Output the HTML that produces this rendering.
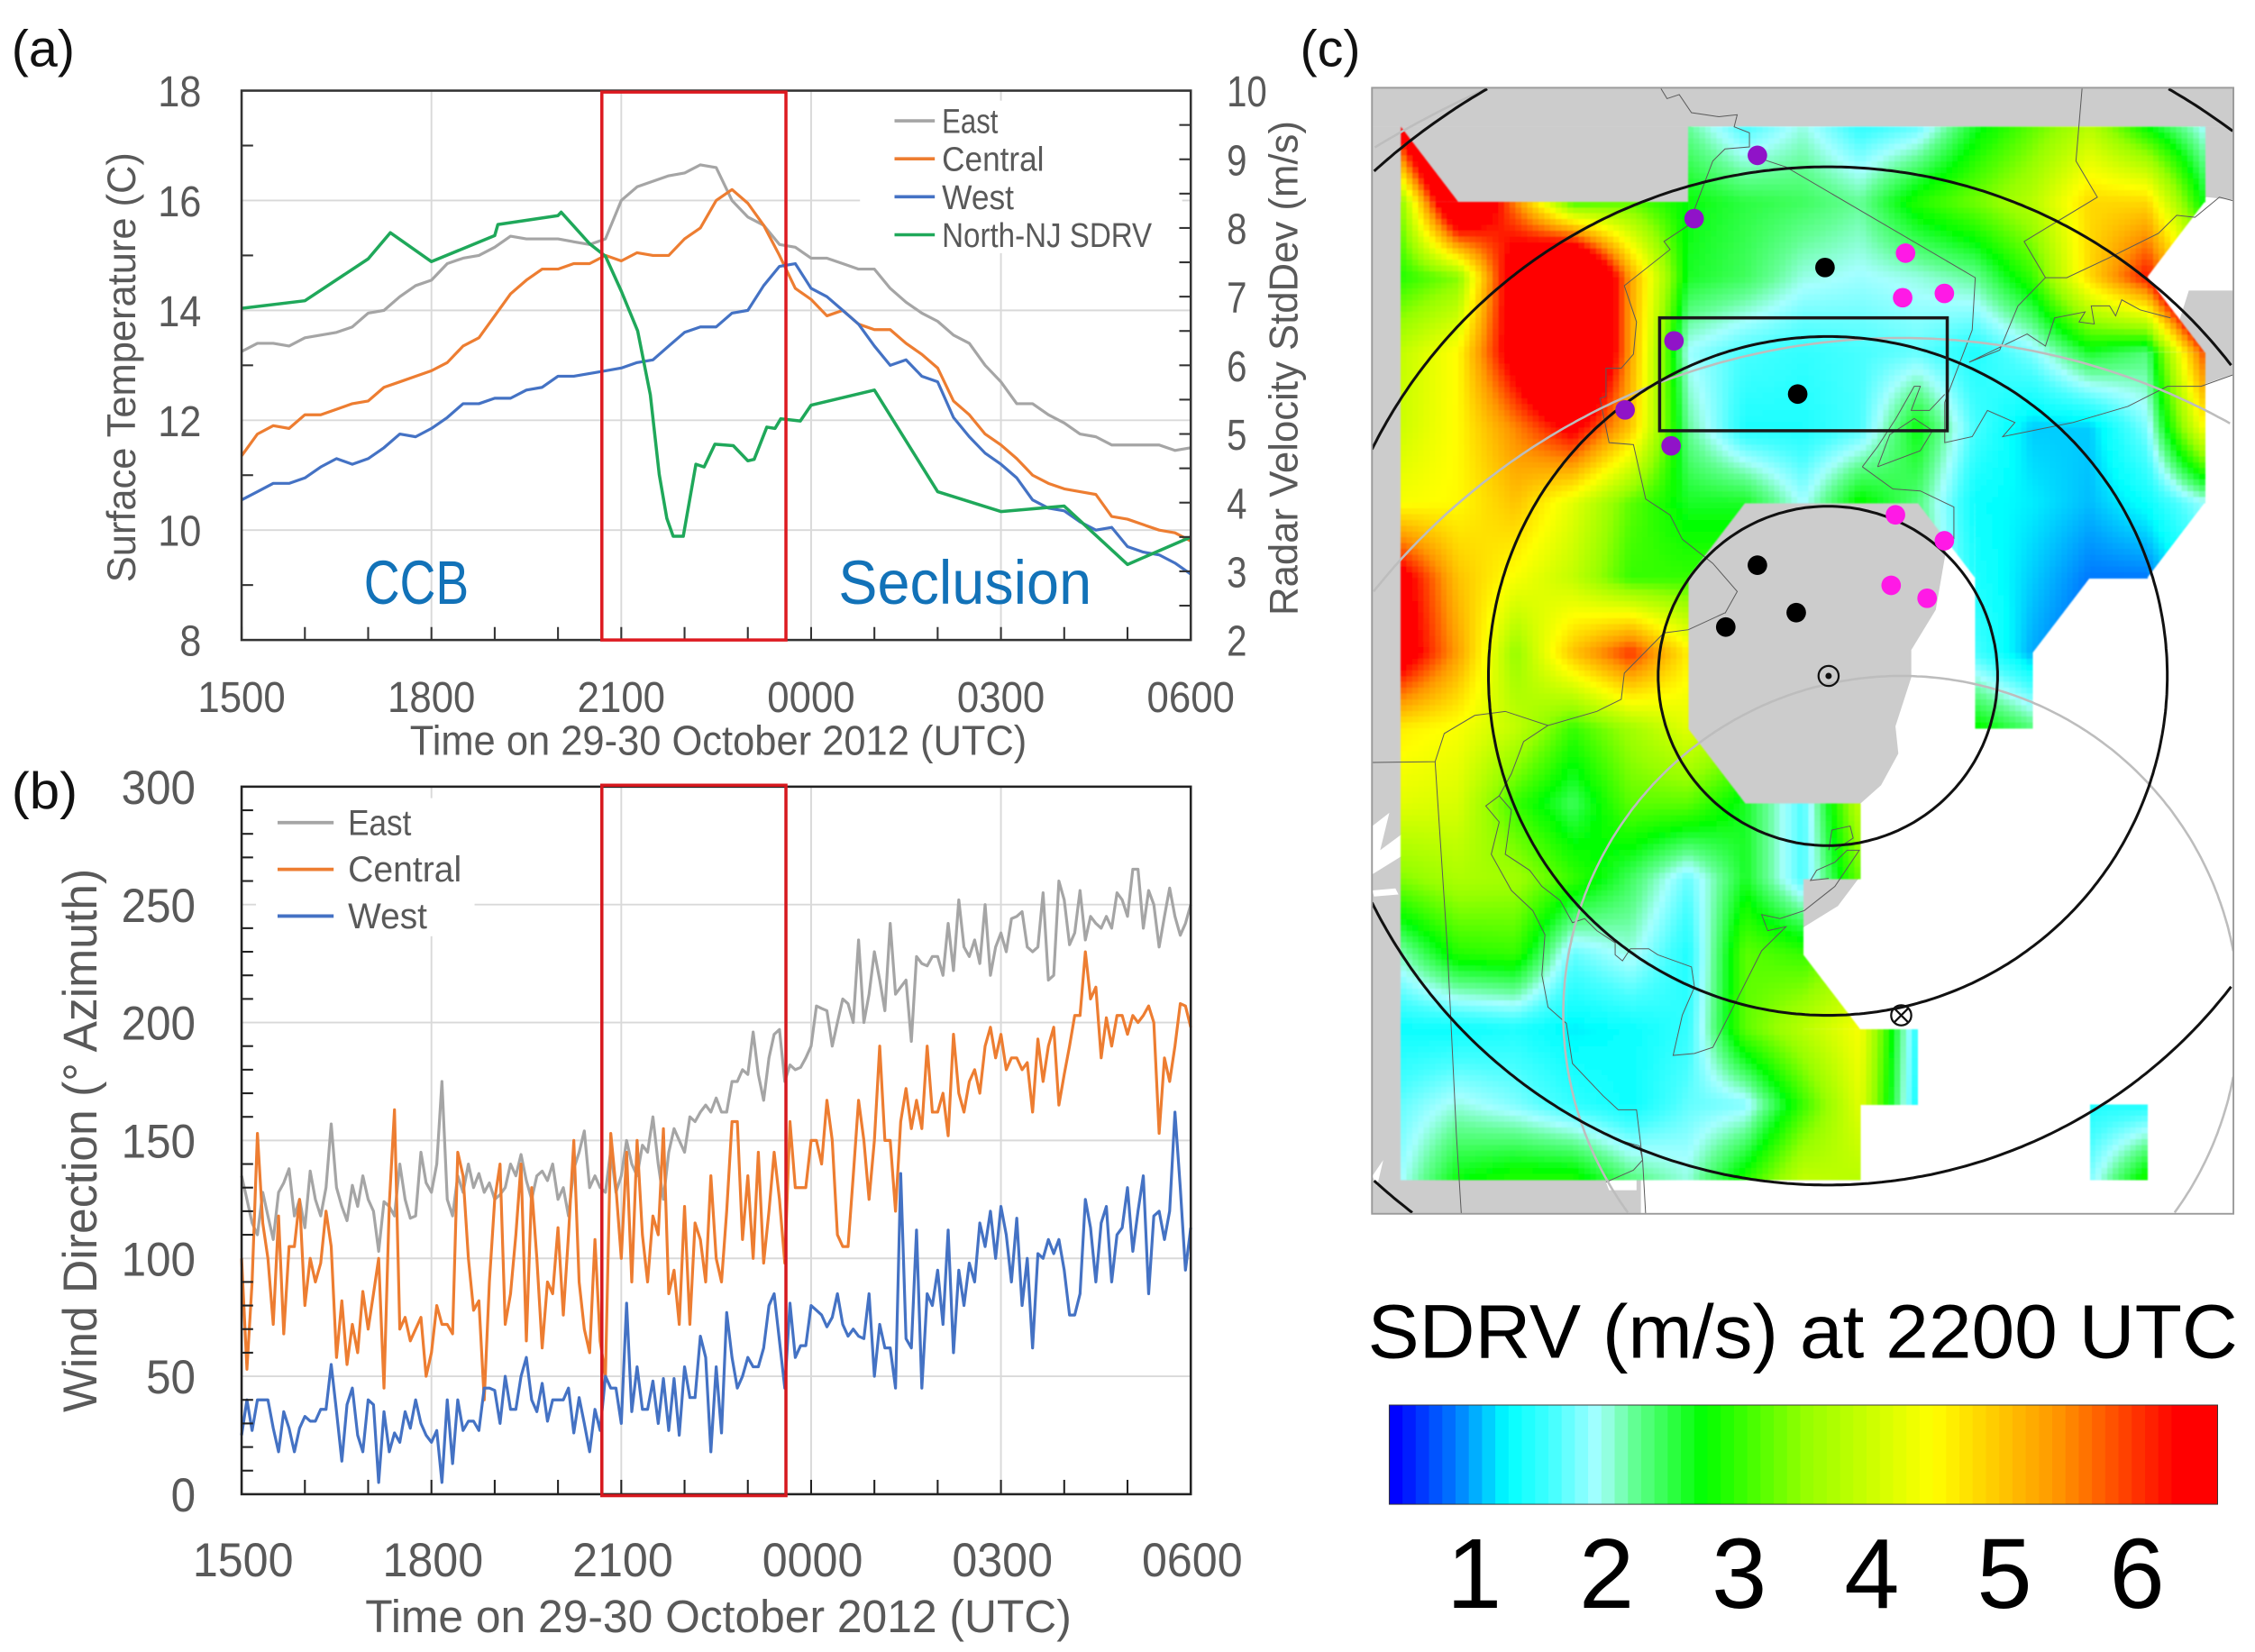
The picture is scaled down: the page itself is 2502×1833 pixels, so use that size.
<!DOCTYPE html>
<html lang="en">
<head>
<meta charset="utf-8">
<title>Surface temperature, wind direction and SDRV map</title>
<style>
html,body{margin:0;padding:0;background:#fff;width:2502px;height:1833px;overflow:hidden}
svg{display:block}
text{font-family:"Liberation Sans",sans-serif}
.tk{fill:#595959}
</style>
</head>
<body>
<svg id="fig" xmlns="http://www.w3.org/2000/svg" width="2502" height="1833" viewBox="0 0 1568 1148.7">
  <defs id="defs">
    <clipPath id="mapClip"><rect x="954" y="61" width="599" height="783"/></clipPath>
    <filter id="soft" x="-2%" y="-2%" width="104%" height="104%"><feGaussianBlur stdDeviation="0.55"/></filter>
  </defs>
  <rect x="0" y="0" width="1568" height="1148.7" fill="#fff"/>

  <text x="8" y="46" font-size="36" fill="#111" textLength="44" lengthAdjust="spacingAndGlyphs">(a)</text>
  <text x="8" y="562" font-size="36" fill="#111" textLength="46" lengthAdjust="spacingAndGlyphs">(b)</text>
  <text x="904" y="46" font-size="36" fill="#111" textLength="42" lengthAdjust="spacingAndGlyphs">(c)</text>

  <!-- Panel A -->
  <g id="panelA">
    <g id="gridA"></g>
    <rect x="598" y="70" width="224" height="106" fill="#fff"/>
    <g id="seriesA"></g>
    <rect x="168" y="63" width="660" height="382" fill="none" stroke="#333" stroke-width="1.6"/>
    <g id="ticksA"></g>
    <rect x="418.500" y="64" width="128" height="381" fill="none" stroke="#DD1A20" stroke-width="2.2"/>
    <text transform="translate(94,405) rotate(-90)" font-size="28" fill="#595959" textLength="299" lengthAdjust="spacingAndGlyphs">Surface Temperature (C)</text>
    <text transform="translate(902,428) rotate(-90)" font-size="28" fill="#595959" textLength="344" lengthAdjust="spacingAndGlyphs">Radar Velocity StdDev (m/s)</text>
    <text x="285" y="525" font-size="29" fill="#595959" textLength="429" lengthAdjust="spacingAndGlyphs">Time on 29-30 October 2012 (UTC)</text>
    <text x="253" y="420" font-size="43" fill="#1272B8" textLength="73" lengthAdjust="spacingAndGlyphs">CCB</text>
    <text x="583" y="420" font-size="43" fill="#1272B8" textLength="176" lengthAdjust="spacingAndGlyphs">Seclusion</text>
    <g id="legendA"></g>
  </g>

  <!-- Panel B -->
  <g id="panelB">
    <g id="gridB"></g>
    <rect x="178" y="555" width="152" height="96" fill="#fff"/>
    <g id="seriesB"></g>
    <rect x="168" y="547" width="660" height="492" fill="none" stroke="#222" stroke-width="1.6"/>
    <g id="ticksB"></g>
    <rect x="418.500" y="546" width="128" height="494" fill="none" stroke="#D6181E" stroke-width="2.2"/>
    <text transform="translate(67,982) rotate(-90)" font-size="33" fill="#595959" textLength="378" lengthAdjust="spacingAndGlyphs">Wind Direction (° Azimuth)</text>
    <text x="254" y="1135" font-size="32" fill="#595959" textLength="491" lengthAdjust="spacingAndGlyphs">Time on 29-30 October 2012 (UTC)</text>
    <g id="legendB"></g>
  </g>

  <!-- Panel C -->
  <g id="panelC">
    <g clip-path="url(#mapClip)">
      <g fill="#CCCCCC">
        <rect x="954" y="61" width="599" height="27"/>
        <polygon points="1530,88 1553,88 1553,139 1534,137 1530,140"/>
        <rect x="954" y="88" width="222" height="54"/>
        <rect x="954" y="88" width="22" height="756"/>
        <rect x="954" y="816" width="187" height="28"/>
        <polygon points="1172,347 1352,347 1354,378 1346,424 1329,452 1329,471 1318,505 1320,524 1308,546 1290,562 1172,562"/>
        <polygon points="1252,610 1293,610 1278,630 1252,646"/>
        <polygon points="1522,202 1553,202 1553,260 1533,267 1510,240"/>
      </g>
      <g transform="translate(902.4,426.100) scale(.4244,.2798)" fill="#fff">
        <polygon points="122,530 150,497 135,590 175,545 188,545 170,605 122,650"/>
        <polygon points="122,690 160,685 165,700 125,705"/>
        <polygon points="505,1415 530,1390 555,1400 555,1435 510,1435"/>
        <polygon points="122,1400 140,1360 130,1425"/>
        <polygon points="570,1400 1535,1400 1535,1494 570,1494"/>
      </g>
      <g id="heat" filter="url(#soft)" shape-rendering="crispEdges"></g>

      <g fill="none" stroke="#5a5a5a" stroke-width="1" transform="translate(902.4,0) scale(.4244,.2798)">
        <polyline vector-effect="non-scaling-stroke" points="595,220 605,245 625,235 645,280 690,290 720,285 715,315 740,330 740,365 700,370 680,400 660,480 640,560 600,600 610,620 535,710 555,800 550,880 530,915 505,915 505,985 495,990 510,1100 550,1105 570,1240 610,1280 630,1340 680,1400 720,1470 700,1524"/>
        <polyline vector-effect="non-scaling-stroke" points="740,385 800,415 1110,690 1105,820 1060,1000 1060,1100 1105,1085 1130,1020 1175,1050 1155,1085 1270,1050 1360,1010 1425,960 1480,960 1535,930"/>
        <polyline vector-effect="non-scaling-stroke" points="1285,220 1275,400 1310,490 1190,600 1225,690 1180,760 1150,870 1100,900 1195,830 1225,860 1240,790 1290,775 1280,800 1305,805 1300,760 1330,760 1340,785 1350,745 1380,770 1430,790"/>
        <polyline vector-effect="non-scaling-stroke" points="1225,690 1260,690 1330,640 1410,580 1440,535 1470,540 1510,490 1535,500"/>
        <polyline vector-effect="non-scaling-stroke" points="925,1160 950,1110 980,1040 1010,960 1020,960 1005,1020 1035,1020 1060,980"/>
        <polyline vector-effect="non-scaling-stroke" points="950,1160 1020,1120 1040,1070 1010,1040 970,1080 950,1160"/>
        <polyline vector-effect="non-scaling-stroke" points="925,1160 975,1215 1020,1220 1075,1260 1075,1340"/>
      </g>
      <g fill="none" stroke="#5a5a5a" stroke-width="1" transform="translate(902.4,426.100) scale(.4244,.2798)">
        <polyline vector-effect="non-scaling-stroke" points="700,0 640,42 600,50 535,150 530,215 490,245 410,280 340,245 290,255 240,300 225,370 122,372"/>
        <polyline vector-effect="non-scaling-stroke" points="225,370 245,830 260,1300 268,1495"/>
        <polyline vector-effect="non-scaling-stroke" points="410,280 370,320 350,400 330,455 350,490 340,600 380,640 400,680 430,715 450,770 470,760 490,790 520,820 520,850 532,865 545,835 575,835 590,850 645,880 650,930 630,1000 615,1100 650,1095 680,1080 720,960 760,840 800,780 770,790 760,750 790,760 830,740 880,680 920,590 900,590 880,620 850,640 840,665 870,660"/>
        <polyline vector-effect="non-scaling-stroke" points="330,455 308,480 330,520 317,600 350,690 385,740 405,800 400,900 410,980 440,1020 450,1120 500,1200 525,1235 555,1235 565,1360 570,1495"/>
        <polyline vector-effect="non-scaling-stroke" points="525,1310 560,1325 565,1360 550,1385 505,1415"/>
        <polyline vector-effect="non-scaling-stroke" points="870,590 875,540 905,530 910,560 880,590"/>
      </g>

      <g id="ringsGrey" fill="none" stroke="#BDBDBD" stroke-width="1.6"></g>
      <g id="ringsBlack" fill="none" stroke="#111" stroke-width="1.9"></g>
      <rect x="1154" y="221" width="200" height="78.500" fill="none" stroke="#1a1a1a" stroke-width="2.2"/>
      <g id="stations"></g>
      <g fill="none" stroke="#111" stroke-width="1.4">
        <circle cx="1271.500" cy="470" r="7"/>
        <circle cx="1271.500" cy="470" r="1.5" fill="#111"/>
      </g>
      <g fill="none" stroke="#111" stroke-width="1.4">
        <circle cx="1322" cy="706" r="7"/>
        <line x1="1317" y1="701" x2="1327" y2="711"/>
        <line x1="1327" y1="701" x2="1317" y2="711"/>
      </g>
    </g>
    <rect x="954" y="61" width="599" height="783" fill="none" stroke="#9a9a9a" stroke-width="1.2"/>
    <text x="951" y="944" font-size="53" fill="#000" textLength="605" lengthAdjust="spacingAndGlyphs">SDRV (m/s) at 2200 UTC</text>
    <g id="cbar"></g>
    <rect x="966" y="977" width="576" height="69" fill="none" stroke="#333" stroke-width="0.6"/>
    <g id="cbarLabels"></g>
  </g>
</svg>

<script>
/* ---------- Panel (a) data ---------- */
const hoursA = [0,.25,.5,.75,1,1.25,1.5,1.75,2,2.25,2.5,2.75,3,3.25,3.5,3.75,4,4.25,4.5,4.75,5,5.25,5.5,5.75,6,6.25,6.5,6.75,7,7.25,7.5,7.75,8,8.25,8.5,8.75,9,9.25,9.5,9.75,10,10.25,10.5,10.75,11,11.25,11.5,11.75,12,12.25,12.5,12.75,13,13.25,13.5,13.75,14,14.25,14.5,14.75,15];
const eastTemp = [13.25,13.4,13.4,13.35,13.5,13.55,13.6,13.7,13.95,14,14.25,14.45,14.55,14.85,14.95,15,15.15,15.35,15.3,15.3,15.3,15.25,15.2,15.3,16,16.25,16.35,16.45,16.5,16.65,16.6,16,15.7,15.55,15.2,15.15,14.95,14.95,14.85,14.75,14.75,14.4,14.15,13.95,13.8,13.55,13.4,13,12.7,12.3,12.3,12.1,11.95,11.75,11.7,11.55,11.55,11.55,11.55,11.45,11.5];
const centralTemp = [11.35,11.75,11.9,11.85,12.1,12.1,12.2,12.3,12.35,12.6,12.7,12.8,12.9,13.05,13.35,13.5,13.9,14.3,14.55,14.75,14.75,14.85,14.85,15,14.9,15.05,15,15,15.3,15.5,16,16.2,15.95,15.55,15,14.4,14.2,13.9,14,13.75,13.65,13.65,13.4,13.2,12.95,12.35,12.1,11.75,11.55,11.3,11,10.85,10.75,10.7,10.65,10.25,10.2,10.1,10,9.95,9.8];
const westTemp = [10.55,10.7,10.85,10.85,10.95,11.15,11.3,11.2,11.3,11.5,11.75,11.7,11.85,12.05,12.3,12.3,12.4,12.4,12.55,12.6,12.8,12.8,12.85,12.9,12.95,13.05,13.1,13.35,13.6,13.7,13.7,13.95,14,14.45,14.8,14.85,14.4,14.25,14,13.75,13.35,13,13.1,12.8,12.7,12.05,11.7,11.4,11.2,10.95,10.55,10.4,10.35,10.15,10,10.05,9.7,9.6,9.55,9.4,9.2];
const sdrvHours = [0,1,2,2.35,3,4,4.05,5,5.05,5.5,5.75,6,6.26,6.46,6.6,6.72,6.82,6.98,7.18,7.31,7.48,7.77,8,8.1,8.3,8.43,8.52,8.83,9,10,11,12,13,14,15];
const sdrvValues = [6.83,6.94,7.55,7.93,7.51,7.89,8.05,8.18,8.23,7.77,7.59,7.08,6.5,5.57,4.41,3.77,3.51,3.51,4.56,4.52,4.85,4.83,4.61,4.63,5.1,5.08,5.22,5.19,5.42,5.64,4.16,3.87,3.95,3.1,3.5];
const yTicksA = [8,10,12,14,16,18];
const yTicksRight = [2,3,4,5,6,7,8,9,10];
const xTickHours = [0,3,6,9,12,15];
const xTickLabels = ['1500','1800','2100','0000','0300','0600'];

/* ---------- Panel (b) data : one value every 5 minutes ---------- */
const eastDir = [135,125,115,110,128,118,108,128,132,138,118,125,
113,137,125,118,130,157,130,122,116,131,122,135,
125,120,103,124,122,118,140,125,117,118,145,132,
128,140,175,125,118,135,128,140,130,136,128,132,
125,127,130,140,135,144,133,125,135,137,133,140,
125,130,118,138,145,154,130,135,130,128,146,128,
135,150,140,135,148,145,160,140,125,145,155,150,
145,160,158,162,165,162,168,162,162,175,175,180,
178,196,178,167,185,195,197,175,182,180,181,185,
190,207,206,205,190,200,210,208,200,235,200,212,
230,218,205,242,212,215,218,192,228,225,224,228,
228,220,242,222,252,232,228,235,225,250,220,232,
238,230,244,245,247,232,230,232,255,218,220,260,
252,233,238,256,235,245,242,240,245,240,255,252,
245,265,265,240,256,250,232,245,257,245,237,242,250];
const centralDir = [100,53,90,153,115,100,72,118,68,105,105,125,
80,100,90,98,120,105,58,82,55,72,60,86,
70,85,100,45,123,163,70,75,65,70,75,50,
60,80,72,72,68,145,135,100,78,82,40,90,
125,140,72,85,110,140,65,130,100,62,90,85,
113,76,110,150,90,70,60,108,65,50,153,130,
100,145,90,150,110,90,118,110,155,85,95,72,
122,72,115,108,90,135,100,90,120,158,158,108,
135,100,145,98,120,145,125,98,158,130,130,130,
150,150,140,167,150,110,105,105,135,167,150,125,
150,190,150,150,120,158,172,155,167,155,190,162,
162,170,152,195,170,162,175,180,170,190,198,185,
195,180,185,185,180,183,162,193,175,190,198,165,
178,190,203,203,230,210,215,185,202,190,203,203,
195,203,200,203,207,200,153,185,175,190,208,207,198];
const westDir = [25,40,27,40,40,40,28,18,35,28,18,28,
33,31,31,36,36,55,35,14,38,45,25,18,
40,38,5,35,18,26,22,35,28,40,30,25,
22,27,5,40,13,40,27,31,31,27,45,45,
44,30,50,36,36,50,58,40,35,47,31,40,
40,40,45,26,41,30,18,36,27,50,45,45,
30,81,35,54,36,36,48,30,49,27,49,25,
54,41,41,67,58,18,54,26,77,58,45,50,
58,54,54,62,80,85,65,45,81,58,63,63,
80,78,76,71,75,85,72,67,70,67,66,85,
50,72,62,62,45,136,66,62,112,45,85,80,
95,72,112,60,95,80,98,90,115,105,120,100,
122,110,90,117,80,100,62,102,100,108,102,108,
95,76,76,85,125,113,90,115,122,90,110,113,
130,103,120,135,85,118,120,108,120,162,130,95,113];
const yTicksB = [0,50,100,150,200,250,300];

/* ---------- Panel (c) data : SDRV in m/s, rows north to south, null = no data ---------- */
const heatRow00 = [6.8,null,null,null,null,2.2,1.6,2,1.5,1.7,2.6,3.2,3.8,2.7,1.9];
const heatRow01 = [3.4,8,5.5,3,3.2,2.7,2.5,2.4,2.2,2.9,3.3,3.8,4.8,4.8,2.6];
const heatRow02 = [2.9,3.4,7,9,5.3,2.6,2.4,2,1.9,2,2.2,3,4.8,6.2,null];
const heatRow03 = [3.9,4.5,6.8,9,5.3,1.9,1.6,1.5,1.6,1.7,1.4,1.8,2.6,2.3,5.9];
const heatRow04 = [4,4.5,5.5,6.5,5,2.2,1.4,1.4,1.6,2.7,1.6,1.1,1.1,1.8,4.5];
const heatRow05 = [4.4,4.5,5,4.2,3.2,2.6,2.6,1.9,2.8,2.3,1.3,1.2,1.05,1.3,1.9];
const heatRow06 = [6.6,5,4.4,3.9,3,3,null,null,null,null,1.4,1.1,.85,.85,null];
const heatRow07 = [6.8,5.3,3.5,5,6,4.6,null,null,null,null,1.6,1,null,null,null];
const heatRow08 = [4.6,4.4,3.9,3,3.6,4.2,null,null,null,null,2.8,2.3,null,null,null];
const heatRow09 = [4.2,4.1,3,2.4,3.2,3.2,2.6,1.6,3.9,null,null,null,null,null,null];
const heatRow10 = [3.4,3.7,3.6,3,2.4,1.7,2.6,1.6,3.3,null,null,null,null,null,null];
const heatRow11 = [2.1,2.9,3,1.7,2,1.4,3.2,3,null,null,null,null,null,null,null];
const heatRow12 = [1.3,1.3,1.4,1.2,1.3,1.5,3.2,3.8,4.4,1.4,null,null,null,null,null];
const heatRow13 = [1.7,2,1.8,1.5,1.3,1.7,1.8,3,4.2,1.3,null,null,1.4,1.4,null];
const heatRow14 = [1.9,2.7,2.9,2.9,2.3,2,2.9,3.9,3.8,null,null,null,1.8,2.9,null];
const heatRows = [heatRow00,heatRow01,heatRow02,heatRow03,heatRow04,heatRow05,heatRow06,heatRow07,heatRow08,heatRow09,heatRow10,heatRow11,heatRow12,heatRow13,heatRow14];
const colorbarTicks = [1,2,3,4,5,6];

/* ---------- helpers ---------- */
const NS = 'http://www.w3.org/2000/svg';
function mk(tag, attrs, parent){
  const e = document.createElementNS(NS, tag);
  for (const k in attrs) e.setAttribute(k, attrs[k]);
  parent.appendChild(e);
  return e;
}
const $ = id => document.getElementById(id);

/* axis functions */
const xAxis = h => 168 + h / 15 * 660;
const yTemp = t => 445 - (t - 8) / 10 * 382;
const yRadar = v => 445 - (v - 2) / 8 * 382;
const yDir = d => 1039 - d / 300 * 492;

/* ---------- Panel A ---------- */
[3,6,9,12].forEach(h => {
  const l = mk('line', {x1:xAxis(h),x2:xAxis(h),y1:63,y2:445,stroke:'#D9D9D9','stroke-width':1.2}, $('gridA'));
  
  
});
[10,12,14,16].forEach(t => {
  const l = mk('line', {x1:168,x2:828,y1:yTemp(t),y2:yTemp(t),stroke:'#D9D9D9','stroke-width':1.2}, $('gridA'));
  
  
});
function drawLine(group, xs, ys, xf, yf, color, width, name){
  const p = mk('polyline', {points:xs.map((x,i)=>xf(x).toFixed(1)+','+yf(ys[i]).toFixed(1)).join(' '),fill:'none',stroke:color,'stroke-width':width,'stroke-linejoin':'round'}, group);
  
  
}
drawLine($('seriesA'), hoursA, eastTemp, xAxis, yTemp, '#A5A5A5', 2, 'line-east-temperature');
drawLine($('seriesA'), hoursA, centralTemp, xAxis, yTemp, '#ED7D31', 2, 'line-central-temperature');
drawLine($('seriesA'), hoursA, westTemp, xAxis, yTemp, '#4472C4', 2, 'line-west-temperature');
drawLine($('seriesA'), sdrvHours, sdrvValues, xAxis, yRadar, '#1FA85A', 2.2, 'line-north-nj-sdrv');

for (let h = 0; h <= 15; h++){
  const t = mk('line', {x1:xAxis(h),x2:xAxis(h),y1:445,y2:436,stroke:'#333','stroke-width':1.3}, $('ticksA'));
  
  
}
[9,11,13,15,17].forEach(v => {
  const t = mk('line', {x1:168,x2:176,y1:yTemp(v),y2:yTemp(v),stroke:'#333','stroke-width':1.3}, $('ticksA'));
  
  
});
for (let v = 2; v <= 10; v += .5){
  const t = mk('line', {x1:820,x2:828,y1:yRadar(v),y2:yRadar(v),stroke:'#333','stroke-width':1.3}, $('ticksA'));
  
  
}
yTicksA.forEach(v => {
  const t = mk('text', {x:140,y:yTemp(v)+11,'font-size':30,'text-anchor':'end',class:'tk',textLength:String(v).length*15.1,lengthAdjust:'spacingAndGlyphs'}, $('ticksA'));
  
  
  t.textContent = v;
});
yTicksRight.forEach(v => {
  const t = mk('text', {x:853,y:yRadar(v)+11,'font-size':30,class:'tk',textLength:String(v).length*14,lengthAdjust:'spacingAndGlyphs'}, $('ticksA'));
  
  
  t.textContent = v;
});
xTickHours.forEach((h,i) => {
  const t = mk('text', {x:xAxis(h),y:495,'font-size':30,'text-anchor':'middle',class:'tk',textLength:61,lengthAdjust:'spacingAndGlyphs'}, $('ticksA'));
  
  
  t.textContent = xTickLabels[i];
});
const legendNamesA = ['East','Central','West','North-NJ SDRV'];
const legendColorsA = ['#A5A5A5','#ED7D31','#4472C4','#1FA85A'];
const legendWidthsA = [39,71,50,146];
legendNamesA.forEach((n,i) => {
  const y = 84 + i * 26.4;
  const l = mk('line', {x1:622,x2:650,y1:y,y2:y,stroke:legendColorsA[i],'stroke-width':2.2}, $('legendA'));
  
  
  const t = mk('text', {x:655,y:y+8.5,'font-size':24,fill:'#595959',textLength:legendWidthsA[i],lengthAdjust:'spacingAndGlyphs'}, $('legendA'));
  
  
  t.textContent = n;
});

/* ---------- Panel B ---------- */
[3,6,9,12].forEach(h => {
  const l = mk('line', {x1:xAxis(h),x2:xAxis(h),y1:547,y2:1039,stroke:'#D9D9D9','stroke-width':1.2}, $('gridB'));
  
  
});
[50,100,150,200,250].forEach(d => {
  const l = mk('line', {x1:168,x2:828,y1:yDir(d),y2:yDir(d),stroke:'#D9D9D9','stroke-width':1.2}, $('gridB'));
  
  
});
const hoursB = eastDir.map((_,i) => i / 12);
drawLine($('seriesB'), hoursB, eastDir, xAxis, yDir, '#A5A5A5', 2, 'line-east-direction');
drawLine($('seriesB'), hoursB, centralDir, xAxis, yDir, '#ED7D31', 2, 'line-central-direction');
drawLine($('seriesB'), hoursB, westDir, xAxis, yDir, '#4472C4', 2, 'line-west-direction');
for (let h = 0; h <= 15; h++){
  const t = mk('line', {x1:xAxis(h),x2:xAxis(h),y1:1039,y2:1029,stroke:'#222','stroke-width':1.3}, $('ticksB'));
  
  
}
for (let d = 0; d <= 300; d += 10){
  if (d % 50 === 0) continue;
  const t = mk('line', {x1:168,x2:176,y1:yDir(d),y2:yDir(d),stroke:'#222','stroke-width':1.3}, $('ticksB'));
  
  
}
yTicksB.forEach(v => {
  const t = mk('text', {x:136,y:yDir(v)+12,'font-size':33,'text-anchor':'end',class:'tk',textLength:String(v).length*17.2,lengthAdjust:'spacingAndGlyphs'}, $('ticksB'));
  
  
  t.textContent = v;
});
xTickHours.forEach((h,i) => {
  const t = mk('text', {x:xAxis(h)+1,y:1096,'font-size':33,'text-anchor':'middle',class:'tk',textLength:70,lengthAdjust:'spacingAndGlyphs'}, $('ticksB'));
  
  
  t.textContent = xTickLabels[i];
});
const legendNamesB = ['East','Central','West'];
const legendColorsB = ['#A5A5A5','#ED7D31','#4472C4'];
const legendWidthsB = [44,79,55];
legendNamesB.forEach((n,i) => {
  const y = 572 + i * 32.5;
  const l = mk('line', {x1:193,x2:232,y1:y,y2:y,stroke:legendColorsB[i],'stroke-width':2.4}, $('legendB'));
  
  
  const t = mk('text', {x:242,y:y+8.5,'font-size':25,fill:'#595959',textLength:legendWidthsB[i],lengthAdjust:'spacingAndGlyphs'}, $('legendB'));
  
  
  t.textContent = n;
});

/* ---------- Colormap ---------- */
const cmapStops = [[.4,0,0,255],[.85,0,120,255],[1.25,0,255,255],[1.6,70,255,255],[1.93,165,255,255],[2.2,100,255,150],[2.73,0,255,0],[3.5,150,255,0],[4.46,255,255,0],[5.4,255,150,0],[6.3,255,0,0],[6.6,255,0,0]];
function cmap(v){
  if (v <= cmapStops[0][0]) v = cmapStops[0][0];
  for (let i = 1; i < cmapStops.length; i++){
    const a = cmapStops[i-1], b = cmapStops[i];
    if (v <= b[0]){
      const f = (v - a[0]) / (b[0] - a[0]);
      return 'rgb(' + Math.round(a[1]+(b[1]-a[1])*f) + ',' + Math.round(a[2]+(b[2]-a[2])*f) + ',' + Math.round(a[3]+(b[3]-a[3])*f) + ')';
    }
  }
  return 'rgb(255,0,0)';
}

/* ---------- Heatmap ---------- */
const colX = i => 974 + 39.93 * i;
const rowY = j => 88 + 52.3 * j;
/* cells that are left empty even though three of their corners have data (col,row) */
const emptyCells = ['4,0','7,10','8,13'];
const SUBX = 10, SUBY = 13;
const heatGroup = $('heat');
for (let j = 0; j < heatRows.length - 1; j++){
  for (let i = 0; i < heatRows[j].length - 1; i++){
    if (emptyCells.includes(i + ',' + j)) continue;
    const a = heatRows[j][i], b = heatRows[j][i+1], c = heatRows[j+1][i], d = heatRows[j+1][i+1];
    const missing = [a,b,c,d].filter(v => v === null).length;
    if (missing > 1) continue;
    const w = colX(1) - colX(0), h = rowY(1) - rowY(0);
    let target = heatGroup;
    if (missing === 1){
      const x0 = colX(i), x1 = colX(i+1), y0 = rowY(j), y1 = rowY(j+1);
      let tri;
      if (a === null) tri = [[x1,y0],[x1,y1],[x0,y1]];
      else if (b === null) tri = [[x0,y0],[x1,y1],[x0,y1]];
      else if (c === null) tri = [[x0,y0],[x1,y0],[x1,y1]];
      else tri = [[x0,y0],[x1,y0],[x0,y1]];
      const cp = mk('clipPath', {id:'tri-' + i + '-' + j}, $('defs'));
      mk('polygon', {points:tri.map(p => p[0].toFixed(2) + ',' + p[1].toFixed(2)).join(' ')}, cp);
      target = mk('g', {'clip-path':'url(#tri-' + i + '-' + j + ')'}, heatGroup);
      
      
    }
    for (let sy = 0; sy < SUBY; sy++){
      for (let sx = 0; sx < SUBX; sx++){
        const u = (sx + .5) / SUBX, v = (sy + .5) / SUBY;
        let val;
        if (missing === 0) val = a*(1-u)*(1-v) + b*u*(1-v) + c*(1-u)*v + d*u*v;
        else if (a === null) val = d + (c - d)*(1-u) + (b - d)*(1-v);
        else if (b === null) val = c + (d - c)*u + (a - c)*(1-v);
        else if (c === null) val = b + (a - b)*(1-u) + (d - b)*v;
        else val = a + (b - a)*u + (c - a)*v;
        const r = document.createElementNS(NS, 'rect');
        r.setAttribute('x', (colX(i) + w * sx / SUBX).toFixed(2));
        r.setAttribute('y', (rowY(j) + h * sy / SUBY).toFixed(2));
        r.setAttribute('width', (w / SUBX + .4).toFixed(2));
        r.setAttribute('height', (h / SUBY + .4).toFixed(2));
        r.setAttribute('fill', cmap(val));
        
        
        target.appendChild(r);
      }
    }
  }
}

/* ---------- Range rings, traced only inside the map frame ---------- */
const greyRingRadii = [235,470,705];
const blackRingRadii = [118,236,354,472];
function drawRing(group, cx, cy, r, name){
  const segs = [];
  let cur = [];
  const n = Math.ceil(r * 2);
  for (let k = 0; k <= n; k++){
    const th = k / n * 2 * Math.PI;
    const x = cx + r * Math.cos(th), y = cy + r * Math.sin(th);
    if (x >= 954 && x <= 1553 && y >= 61 && y <= 844){
      cur.push(x.toFixed(1) + ',' + y.toFixed(1));
    } else if (cur.length){
      segs.push(cur);
      cur = [];
    }
  }
  if (cur.length) segs.push(cur);
  segs.forEach(s => {
    const p = mk('polyline', {points:s.join(' ')}, group);
    
    
  });
}
greyRingRadii.forEach(r => drawRing($('ringsGrey'), 1322, 705, r, 'grey-range-ring'));
blackRingRadii.forEach(r => drawRing($('ringsBlack'), 1271, 470, r, 'black-range-ring'));

/* ---------- Station markers ---------- */
const blackStations = [[1269,186],[1250,274],[1222,393],[1249,426],[1200,436]];
const magentaStations = [[1325,176],[1323,207],[1352,204],[1318,358],[1352,376],[1315,407],[1340,416]];
const purpleStations = [[1222,108],[1178,152],[1164,237],[1130,285],[1162,310]];
blackStations.forEach(p => {
  const c = mk('circle', {cx:p[0],cy:p[1],r:6.8,fill:'#000'}, $('stations'));
  
  
});
magentaStations.forEach(p => {
  const c = mk('circle', {cx:p[0],cy:p[1],r:6.8,fill:'#FF19E6'}, $('stations'));
  
  
});
purpleStations.forEach(p => {
  const c = mk('circle', {cx:p[0],cy:p[1],r:6.8,fill:'#9013C8'}, $('stations'));
  
  
});

/* ---------- Colorbar ---------- */
const cbarX = v => 1025 + (v - 1) * 92.2;
for (let v = .36; v < 6.6; v += .1){
  const r = mk('rect', {x:cbarX(v).toFixed(2),y:977,width:Math.min(9.8,1542-cbarX(v)).toFixed(2),height:69,fill:cmap(v + .05)}, $('cbar'));
  
  
}
colorbarTicks.forEach(v => {
  const t = mk('text', {x:cbarX(v),y:1118,'font-size':69,'text-anchor':'middle',fill:'#000'}, $('cbarLabels'));
  
  
  t.textContent = v;
});
</script>
</body>
</html>
